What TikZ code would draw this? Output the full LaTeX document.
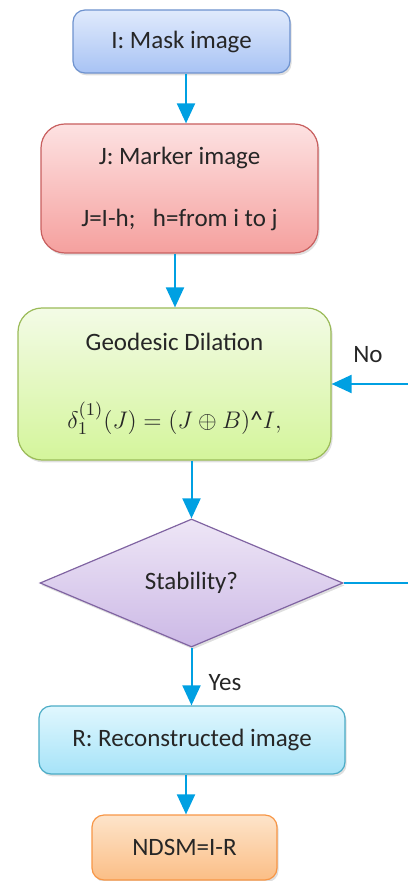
\documentclass[tikz,border=0pt]{standalone}
\usepackage{fontspec}
\setmainfont{Carlito}
\usepackage{tikz}
\usetikzlibrary{positioning, calc, shapes.geometric, arrows.meta, shadows}

\definecolor{flowblue}{RGB}{0,160,226}
\definecolor{textgray}{RGB}{38,38,38}
\definecolor{maskline}{RGB}{110,146,206}
\definecolor{markline}{RGB}{200,95,95}
\definecolor{geoline}{RGB}{155,187,89}
\definecolor{stabline}{RGB}{128,100,162}
\definecolor{recline}{RGB}{75,172,198}
\definecolor{ndsmline}{RGB}{247,150,70}

\begin{document}
\begin{tikzpicture}[x=0.5pt, y=-0.5pt,
    box/.style={draw, line width=0.6pt, rounded corners=6pt, align=center, text=textgray,
        font=\fontsize{12.5}{15}\selectfont, inner sep=0pt,
        drop shadow={opacity=0.25, shadow xshift=0.8pt, shadow yshift=-1.2pt}},
    flow/.style={draw=flowblue, line width=1pt, -{Triangle[width=9pt,length=10pt]}}]
    \useasboundingbox (0,0) rectangle (407,881);
    \node[box, draw=maskline, top color={rgb,255:red,224;green,234;blue,252}, bottom color={rgb,255:red,168;green,195;blue,244},
        minimum width=108.5pt, minimum height=31.5pt] (mask) at (181.5,41.5) {I: Mask image};
    \node[box, draw=markline, rounded corners=12pt, top color={rgb,255:red,253;green,226;blue,226}, bottom color={rgb,255:red,245;green,160;blue,158},
        minimum width=138.5pt, minimum height=64.5pt] (marker) at (179.5,188.5) {J: Marker image\\[16pt]J=I-h;\hspace{0.7em}h=from i to j};
    \node[box, draw=geoline, rounded corners=12pt, top color={rgb,255:red,243;green,251;blue,230}, bottom color={rgb,255:red,212;green,245;blue,155},
        minimum width=156.5pt, minimum height=76pt] (geo) at (174.5,384) {Geodesic Dilation\\[24pt]$\delta_1^{(1)}(J) = (J \oplus B)\mbox{\textasciicircum}I,$};
    \node[box, diamond, draw=stabline, rounded corners=0pt, top color={rgb,255:red,238;green,230;blue,246}, bottom color={rgb,255:red,204;green,185;blue,230},
        minimum width=151.5pt, minimum height=64pt] (stab) at (191.5,583) {Stability?};
    \node[box, draw=recline, top color={rgb,255:red,224;green,247;blue,254}, bottom color={rgb,255:red,166;green,227;blue,248},
        minimum width=153pt, minimum height=34pt] (recon) at (192,740) {R: Reconstructed image};
    \node[box, draw=ndsmline, top color={rgb,255:red,253;green,228;blue,202}, bottom color={rgb,255:red,251;green,190;blue,134},
        minimum width=92.5pt, minimum height=32.5pt] (ndsm) at (184.5,847.5) {NDSM=I-R};
    \draw[flow] ([xshift=2.25pt]mask.south) -- ([xshift=2.25pt]mask.south |- marker.north);
    \draw[flow] ([xshift=-2.25pt]marker.south) -- ([xshift=-2.25pt]marker.south |- geo.north);
    \draw[flow] (stab.north |- geo.south) -- (stab.north);
    \draw[flow] (stab.south) -- (stab.south |- recon.north);
    \draw[flow] ([xshift=-3pt]recon.south) -- ([xshift=-3pt]recon.south |- ndsm.north);
    \draw[flow] (stab.east) -- ++(40pt,0) |- (geo.east);
    \node[text=textgray, font=\fontsize{12.5}{15}\selectfont] (no) at (368,355) {No};
    \node[text=textgray, font=\fontsize{12.5}{15}\selectfont] (yes) at (225,683) {Yes};
\end{tikzpicture}
\end{document}
